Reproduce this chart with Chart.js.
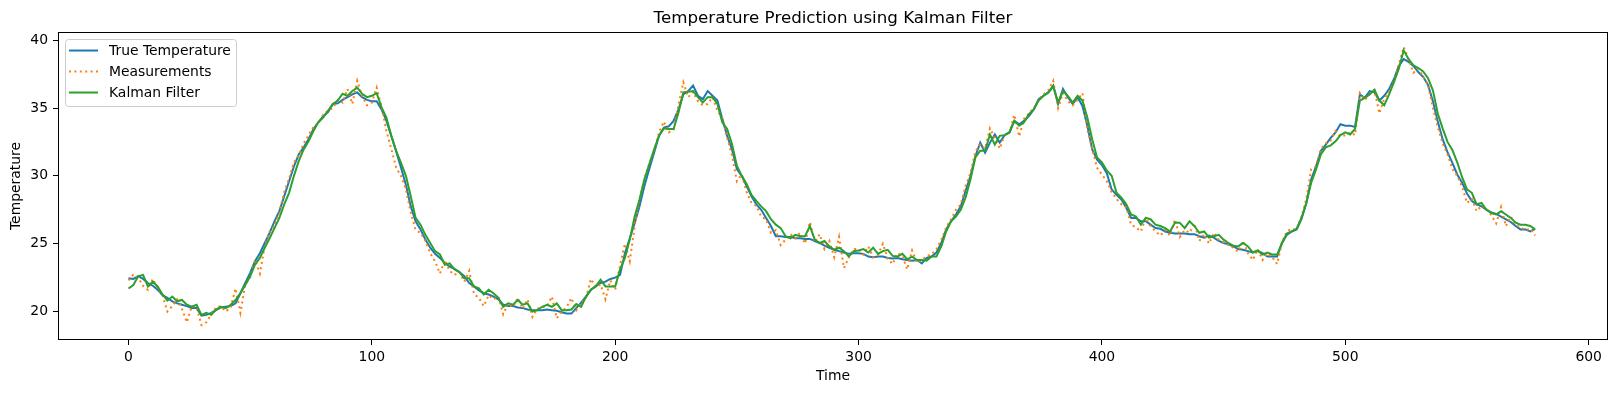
<!DOCTYPE html>
<html>
<head>
<meta charset="utf-8">
<script src="https://cdn.jsdelivr.net/npm/chart.js@4"></script>
<style>
  html, body { margin: 0; padding: 0; background: #fff; }
  #wrap { width: 1616px; height: 393px; }
</style>
</head>
<body>
<div id="wrap"><canvas id="chart" width="1616" height="393"></canvas></div>
<script>
// samples every 2 time steps, t = 0, 2, 4, ... 578
var timeStep = 2
var xTickValues = [0, 100, 200, 300, 400, 500, 600]
var yTickValues = [20, 25, 30, 35, 40]
var seriesNames = ["True Temperature", "Measurements", "Kalman Filter"]

var trueTemp = [
  22.45, 22.4, 22.6, 22.4, 22.1, 21.9, 21.6, 21.2, 21.0, 20.75,
  20.6, 20.5, 20.4, 20.25, 20.25, 19.7, 19.75, 19.9, 20.1, 20.3,
  20.35, 20.4, 20.6, 21.35, 22.1, 22.85, 23.7, 24.3, 25.05, 25.8,
  26.65, 27.4, 28.5, 29.6, 30.7, 31.6, 32.1, 32.7, 33.45, 33.95,
  34.4, 34.7, 35.3, 35.35, 35.6, 35.8, 36.0, 36.15, 35.8, 35.6,
  35.5, 35.5, 34.9, 34.05, 32.95, 31.8, 30.6, 29.35, 27.75, 26.65,
  26.05, 25.3, 24.7, 24.25, 23.95, 23.6, 23.3, 23.15, 22.9, 22.6,
  22.1, 21.85, 21.55, 21.35, 21.25, 21.1, 20.9, 20.5, 20.4, 20.4,
  20.3, 20.25, 20.15, 20.1, 20.1, 20.1, 20.15, 20.1, 20.05, 19.95,
  19.85, 19.85, 20.25, 20.65, 21.1, 21.6, 21.85, 22.1, 22.2, 22.4,
  22.5, 22.7, 24.3, 25.4, 26.5, 27.75, 29.25, 30.5, 31.7, 32.95,
  33.55, 33.65, 34.05, 34.9, 36.0, 36.25, 36.65, 35.9, 35.65, 36.25,
  35.9, 35.55, 34.2, 32.95, 31.95, 30.5, 30.0, 29.25, 28.5, 27.9,
  27.5, 26.9, 26.3, 25.55, 25.55, 25.5, 25.5, 25.4, 25.4, 25.35,
  25.35, 25.2, 25.05, 24.85, 24.7, 24.55, 24.45, 24.35, 24.25, 24.3,
  24.3, 24.25, 24.05, 24.0, 24.05, 24.05, 23.95, 23.9, 23.95, 23.85,
  23.8, 23.75, 23.8, 23.55, 23.95, 24.05, 24.35, 25.05, 26.05, 26.65,
  27.15, 27.75, 28.9, 30.0, 31.45, 32.45, 31.7, 32.45, 33.05, 32.45,
  33.0, 33.2, 34.05, 33.8, 34.05, 34.4, 34.9, 35.65, 35.9, 36.15,
  36.65, 35.3, 36.4, 35.8, 35.3, 35.8, 35.15, 33.7, 31.95, 31.2,
  30.8, 30.2, 29.0, 28.6, 28.25, 27.65, 26.9, 26.9, 26.65, 26.65,
  26.4, 26.15, 26.1, 25.9, 25.8, 25.75, 25.75, 25.75, 25.7, 25.7,
  25.55, 25.45, 25.6, 25.45, 25.2, 25.05, 24.95, 24.8, 24.6, 24.55,
  24.45, 24.35, 24.45, 24.3, 24.05, 24.05, 24.05, 25.05, 25.65, 25.9,
  26.05, 26.8, 28.0, 29.75, 30.7, 31.85, 32.3, 32.8, 33.2, 33.8,
  33.7, 33.7, 33.6, 36.0, 35.75, 36.25, 36.15, 35.55, 35.9, 36.4,
  37.15, 38.1, 38.6, 38.4, 38.1, 37.65, 37.3, 36.7, 35.5, 34.0,
  32.7, 31.75, 30.95, 30.1, 29.5, 28.7, 28.15, 27.9, 27.75, 27.5,
  27.3, 27.2, 27.0, 26.8, 26.6, 26.3, 26.05, 26.05, 25.9, 26.1
]

var measured = [
  22.3, 22.7, 22.5, 21.9, 21.6, 22.4, 21.7, 21.2, 20.0, 20.4,
  20.9, 20.2, 19.2, 20.4, 20.3, 19.0, 19.2, 19.8, 20.3, 20.4,
  20.0, 20.3, 21.7, 19.9, 22.0, 22.5, 23.8, 22.8, 24.8, 25.9,
  26.3, 27.3, 28.8, 29.8, 31.0, 31.5, 32.4, 33.0, 33.6, 33.9,
  34.5, 34.8, 35.0, 35.6, 35.4, 36.4, 35.3, 37.0, 35.9, 35.2,
  35.4, 36.5, 35.1, 33.3, 32.0, 30.6, 30.0, 29.0, 27.3, 26.0,
  25.8, 25.2, 24.3, 23.7, 22.8, 23.8, 23.0, 22.7, 22.9, 22.2,
  23.0, 21.3, 21.0, 20.4, 21.2, 20.9, 21.1, 19.8, 20.6, 20.3,
  21.0, 20.2, 20.9, 19.6, 20.2, 20.3, 20.4, 21.1, 19.5, 20.0,
  20.3, 21.0, 20.1, 20.7, 21.0, 22.4, 21.8, 22.0, 20.9, 22.3,
  21.6, 23.4, 25.0, 23.7, 26.3, 28.2, 29.8, 30.9, 31.8, 33.2,
  34.0, 33.2, 33.4, 35.2, 36.9, 35.8, 36.2, 35.5, 35.2, 35.3,
  35.8, 34.8, 34.3, 32.8, 31.5, 29.6, 30.1, 28.8, 28.0, 27.8,
  27.0, 26.8, 25.8, 26.0, 24.9, 25.3, 25.7, 25.4, 25.8, 25.0,
  26.6, 25.1, 25.7, 24.6, 25.2, 24.0, 25.5, 23.2, 24.0, 24.6,
  24.6, 24.2, 24.8, 24.0, 24.2, 25.0, 23.9, 23.5, 24.3, 24.1,
  23.1, 24.5, 23.6, 23.8, 24.1, 24.2, 24.6, 25.3, 26.2, 26.8,
  27.5, 27.9, 29.3, 30.2, 31.8, 32.3, 32.0, 33.5, 32.8, 32.0,
  33.0, 33.2, 34.5, 32.9, 34.2, 34.6, 35.0, 35.6, 36.0, 36.3,
  37.0, 35.0, 36.1, 35.5, 35.2, 35.6, 36.1, 33.4, 32.0, 30.6,
  30.1, 29.6, 28.8, 28.3, 27.9, 27.7, 26.4, 26.2, 25.9, 26.9,
  26.3, 25.9, 25.6, 26.0, 25.6, 26.8, 25.5, 26.0, 25.8, 26.5,
  25.2, 25.7, 25.0, 25.8, 25.3, 25.1, 24.9, 24.7, 24.4, 25.2,
  24.3, 23.8, 24.6, 23.8, 24.3, 24.0, 23.5, 25.1, 25.9, 26.1,
  26.0, 27.0, 28.3, 30.5, 30.7, 32.0, 32.4, 32.6, 33.3, 32.9,
  33.0, 33.2, 33.0, 36.1, 35.6, 36.0, 36.3, 34.6, 35.7, 36.2,
  37.0, 38.2, 39.5, 38.6, 37.6, 37.9, 37.3, 36.7, 35.0, 33.6,
  32.4, 31.6, 30.5, 30.0, 29.2, 28.0, 28.3, 27.4, 27.8, 27.6,
  27.1, 26.5, 27.7, 26.3, 27.0, 26.4, 26.2, 26.0, 26.1, 25.6
]

var kalman = [
  21.7, 21.95, 22.6, 22.7, 21.85, 22.2, 21.85, 21.25, 20.8, 21.1,
  20.75, 20.85, 20.5, 20.35, 20.5, 19.75, 19.9, 19.75, 20.15, 20.35,
  20.25, 20.5, 20.85, 21.35, 21.95, 22.6, 23.45, 23.95, 24.7, 25.4,
  26.15, 26.9, 27.9, 28.75, 30.0, 31.1, 31.95, 32.55, 33.3, 33.95,
  34.3, 34.8, 35.3, 35.55, 36.05, 35.9, 36.25, 36.5, 36.05, 35.8,
  35.9, 36.1, 35.05, 34.3, 32.95, 31.85, 30.95, 30.0, 28.5, 26.9,
  26.4, 25.65, 25.05, 24.45, 24.2, 23.45, 23.55, 23.1, 22.9, 22.45,
  22.45, 21.85, 21.7, 21.25, 21.6, 21.35, 21.0, 20.35, 20.6, 20.5,
  20.85, 20.5, 20.6, 20.0, 20.1, 20.35, 20.5, 20.35, 20.6, 20.1,
  20.1, 20.15, 20.55, 20.35, 21.1, 21.6, 21.85, 22.35, 21.85, 21.85,
  21.85, 23.1, 23.95, 25.3, 27.0, 28.25, 29.75, 30.85, 31.95, 32.95,
  33.5, 33.45, 33.45, 34.65, 36.15, 36.2, 36.25, 35.8, 35.4, 35.8,
  35.8, 35.3, 33.95, 33.45, 32.35, 30.75, 30.0, 29.4, 28.6, 28.15,
  27.75, 27.4, 26.8, 26.4, 26.15, 25.55, 25.4, 25.65, 25.55, 25.55,
  26.3, 25.3, 25.05, 25.2, 24.8, 24.55, 24.7, 24.45, 24.05, 24.45,
  24.5, 24.6, 24.35, 24.7, 24.25, 24.45, 24.55, 24.1, 24.05, 24.25,
  23.85, 24.05, 23.8, 23.8, 23.75, 24.05, 24.05, 24.8, 25.9, 26.65,
  27.0, 27.5, 28.4, 29.75, 31.35, 31.85, 31.85, 33.05, 32.3, 32.95,
  33.0, 33.2, 34.05, 33.7, 33.95, 34.55, 34.9, 35.55, 35.9, 36.15,
  36.6, 35.4, 36.25, 35.9, 35.4, 35.9, 35.55, 34.3, 32.7, 31.35,
  31.0, 30.4, 30.0, 28.75, 28.4, 27.9, 27.15, 27.0, 26.4, 26.9,
  26.8, 26.4, 26.3, 26.15, 25.9, 26.55, 26.55, 26.15, 26.65, 26.3,
  25.8, 25.9, 25.45, 25.55, 25.65, 25.3, 25.05, 24.85, 24.8, 25.05,
  24.8, 24.35, 24.5, 24.2, 24.35, 24.2, 24.2, 25.05, 25.75, 25.9,
  26.1, 26.9, 28.0, 29.5, 30.5, 31.6, 32.1, 32.25, 32.55, 33.0,
  33.2, 33.05, 33.45, 35.55, 35.75, 36.0, 36.35, 35.55, 35.2, 36.0,
  36.9, 37.9, 39.25, 38.6, 38.15, 37.95, 37.7, 37.2, 36.3, 34.6,
  33.5, 32.5, 31.9, 31.0, 29.9, 29.0, 28.75, 27.9, 28.0, 27.5,
  27.25, 27.15, 27.4, 27.15, 26.9, 26.55, 26.4, 26.4, 26.3, 26.05
]

var colors = ["#1f77b4", "#ff7f0e", "#2ca02c"]
var font = "DejaVu Sans"

function toPoints(values){
  var pts = []
  for (var i = 0; i < values.length; i++){
    pts.push({x: i * timeStep, y: values[i]})
  }
  return pts
}

// matplotlib-like frame + legend in upper left
var axesExtras = {
  id: "axesExtras",
  afterDraw: function(chart){
    var ctx = chart.ctx
    var a = chart.chartArea
    ctx.save()
    ctx.strokeStyle = "#000"
    ctx.lineWidth = 1
    ctx.strokeRect(Math.round(a.left) + 0.5, Math.round(a.top) + 0.5,
                   Math.round(a.right - a.left) - 1, Math.round(a.bottom - a.top) - 1)

    // legend box
    var bx = a.left + 7, by = a.top + 7, bw = 171, bh = 67
    ctx.beginPath()
    ctx.roundRect(bx + 0.5, by + 0.5, bw, bh, 3)
    ctx.fillStyle = "rgba(255,255,255,0.8)"
    ctx.fill()
    ctx.strokeStyle = "#cccccc"
    ctx.stroke()

    ctx.font = "13.9px '" + font + "'"
    ctx.textBaseline = "middle"
    ctx.fillStyle = "#000"
    for (var i = 0; i < seriesNames.length; i++){
      var ry = by + 11.5 + i * 21
      ctx.beginPath()
      ctx.lineWidth = 2
      ctx.strokeStyle = colors[i]
      ctx.setLineDash(i == 1 ? [2, 3.4] : [])
      ctx.moveTo(bx + 4, ry)
      ctx.lineTo(bx + 33, ry)
      ctx.stroke()
      ctx.setLineDash([])
      ctx.fillText(seriesNames[i], bx + 44, ry + 1)
    }
    ctx.restore()
  }
}

var ctx = document.getElementById("chart")
var chart = new Chart(ctx, {
  type: "line",
  data: {
    datasets: [{
      label: seriesNames[0],
      data: toPoints(trueTemp),
      borderColor: colors[0],
      borderWidth: 2,
      order: 3
    }, {
      label: seriesNames[1],
      data: toPoints(measured),
      borderColor: colors[1],
      borderWidth: 2,
      borderDash: [2, 3.4],
      order: 2
    }, {
      label: seriesNames[2],
      data: toPoints(kalman),
      borderColor: colors[2],
      borderWidth: 2,
      order: 1
    }]
  },
  options: {
    responsive: false,
    animation: false,
    devicePixelRatio: 1,
    layout: { padding: { left: 0, right: 8, top: 0, bottom: 0 } },
    elements: { point: { radius: 0 }, line: { tension: 0, fill: false } },
    plugins: {
      legend: { display: false },
      tooltip: { enabled: false },
      title: {
        display: true,
        fullSize: false,
        text: "Temperature Prediction using Kalman Filter",
        color: "#000",
        font: { family: font, size: 16.7, weight: "normal" },
        padding: { top: 9, bottom: 3 }
      }
    },
    scales: {
      x: {
        type: "linear",
        min: -28.95,
        max: 607.95,
        afterFit: function(s){ s.height = 53 },
        afterBuildTicks: function(s){ s.ticks = xTickValues.map(function(v){ return {value: v} }) },
        border: { display: false },
        grid: { drawOnChartArea: false, drawTicks: true, tickLength: 5, color: "#000" },
        ticks: { autoSkip: false, maxRotation: 0, padding: 4, color: "#000", font: { family: font, size: 13.9 } },
        title: { display: true, text: "Time", color: "#000", font: { family: font, size: 13.9 }, padding: { top: 0, bottom: 8 } }
      },
      y: {
        type: "linear",
        min: 17.9,
        max: 40.6,
        afterFit: function(s){ s.width = 58 },
        afterBuildTicks: function(s){ s.ticks = yTickValues.map(function(v){ return {value: v} }) },
        border: { display: false },
        grid: { drawOnChartArea: false, drawTicks: true, tickLength: 5, color: "#000" },
        ticks: { autoSkip: false, padding: 5, color: "#000", font: { family: font, size: 13.9 } },
        title: { display: true, text: "Temperature", color: "#000", font: { family: font, size: 13.9 }, padding: { top: 8, bottom: 0 } }
      }
    }
  },
  plugins: [axesExtras]
})
</script>
</body>
</html>
